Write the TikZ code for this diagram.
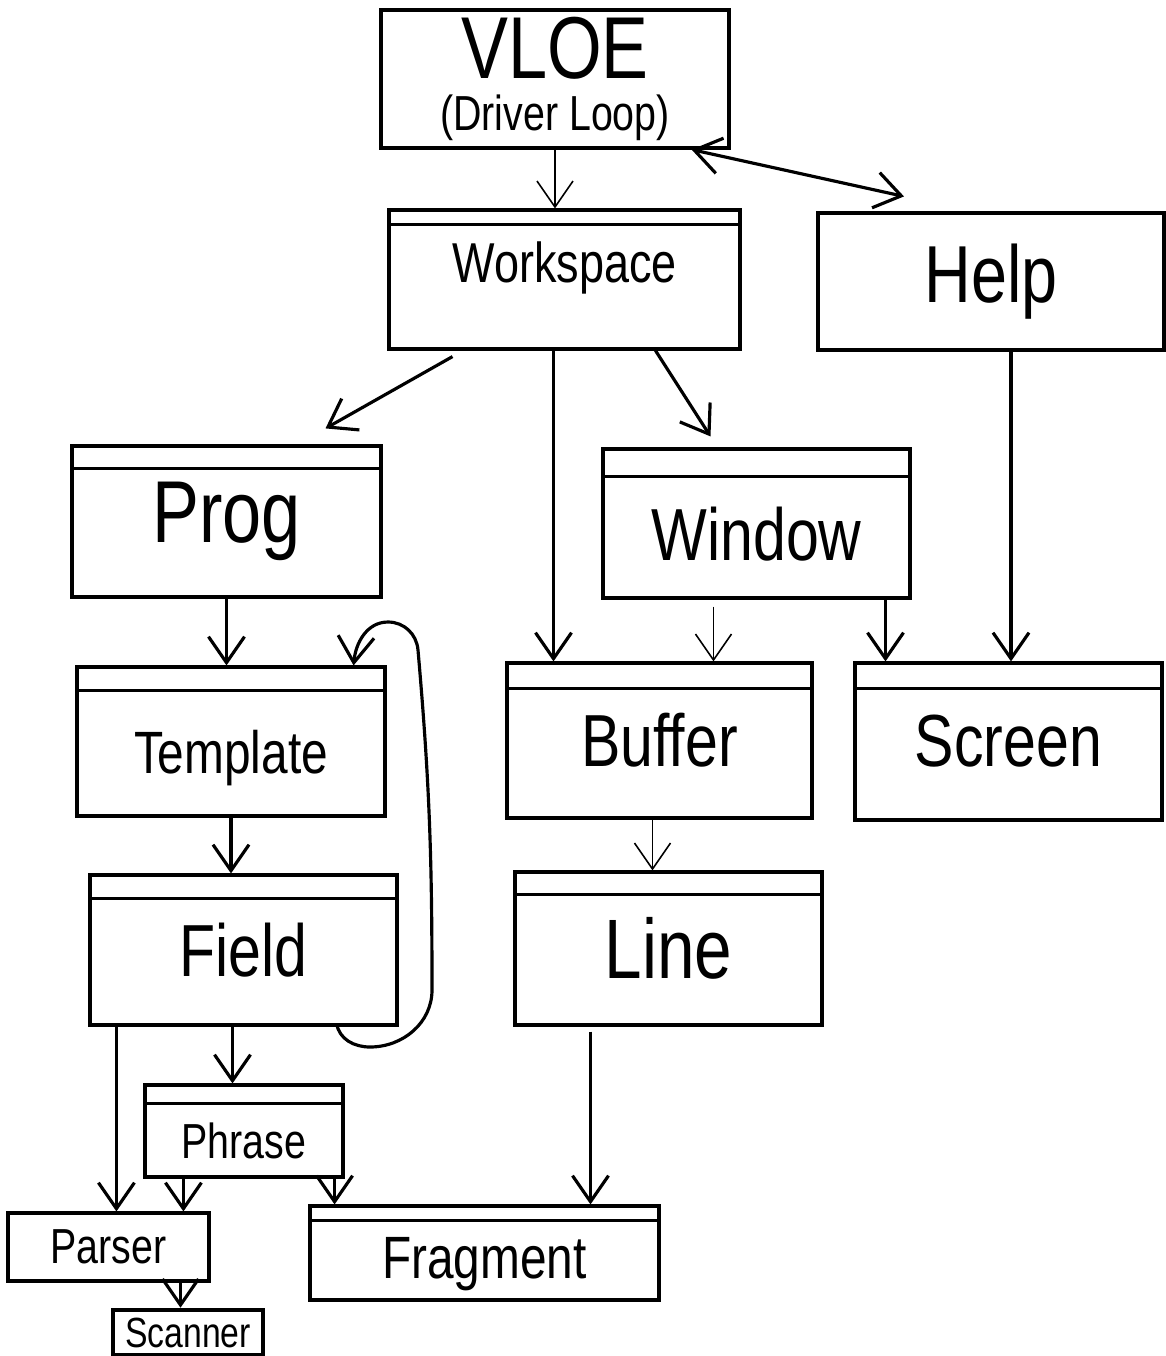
\documentclass[tikz,border=0pt]{standalone}
\usepackage{fontspec}
\setmainfont{Liberation Sans}[FakeStretch=0.8]
\usetikzlibrary{arrows.meta}

\newcommand{\hs}[1]{\fontsize{#1}{#1}\selectfont}

\tikzset{
  box/.style={draw, rectangle, line width=0.9pt, inner sep=0pt},
  lightarrow/.style={line width=0.45pt}
}

\begin{document}
\begin{tikzpicture}[>={Straight Barb[length=2.6mm,width=3.6mm]}, line width=0.9pt]
  \useasboundingbox (0,0) rectangle (11.66,-13.56);

  % Nodes
  \node[box, minimum width=3.48cm, minimum height=1.38cm, align=center] at (5.55,-0.79) (vloe)
    {\hs{25}VLOE\\[3pt]\hs{14}(Driver Loop)};
  \node[box, minimum width=3.51cm, minimum height=1.39cm, text depth=10pt, font=\hs{16}] at (5.645,-2.795) (workspace) {Workspace};
  \node[box, minimum width=3.46cm, minimum height=1.37cm, font=\hs{23}] at (9.91,-2.815) (help) {Help};
  \node[box, minimum width=3.09cm, minimum height=1.51cm, font=\hs{25}] at (2.265,-5.215) (prog) {Prog};
  \node[box, minimum width=3.07cm, minimum height=1.49cm, text height=21pt, font=\hs{21}] at (7.565,-5.235) (window) {Window};
  \node[box, minimum width=3.08cm, minimum height=1.49cm, text height=22pt, font=\hs{17}] at (2.31,-7.415) (template) {Template};
  \node[box, minimum width=3.05cm, minimum height=1.55cm, font=\hs{21}] at (6.595,-7.405) (buffer) {Buffer};
  \node[box, minimum width=3.07cm, minimum height=1.57cm, font=\hs{21}] at (10.085,-7.415) (screen) {Screen};
  \node[box, minimum width=3.07cm, minimum height=1.50cm, font=\hs{21}] at (2.435,-9.50) (field) {Field};
  \node[box, minimum width=3.07cm, minimum height=1.53cm, font=\hs{24}] at (6.685,-9.485) (line) {Line};
  \node[box, minimum width=1.98cm, minimum height=0.92cm, text height=16pt, font=\hs{14}] at (2.44,-11.31) (phrase) {Phrase};
  \node[box, minimum width=2.01cm, minimum height=0.68cm, font=\hs{14}] at (1.085,-12.47) (parser) {Parser};
  \node[box, minimum width=1.50cm, minimum height=0.45cm, line width=1.3pt, font=\hs{12}] at (1.88,-13.325) (scanner) {Scanner};
  \node[box, minimum width=3.49cm, minimum height=0.94cm, text height=18pt, font=\hs{17}] at (4.845,-12.53) (fragment) {Fragment};

  % Header bars
  \foreach \n/\d in {workspace/0.16, prog/0.24, window/0.29, template/0.25, buffer/0.27,
                     screen/0.27, field/0.25, line/0.24, phrase/0.2, fragment/0.16}
    \draw ([yshift=-\d cm]\n.north west) -- ([yshift=-\d cm]\n.north east);

  % Edges
  \draw[->, lightarrow] (vloe.south) -- (vloe.south |- workspace.north);
  \draw[<->] ([xshift=-0.39cm]vloe.south east) -- ([xshift=-0.87cm,yshift=0.15cm]help.north);
  \draw[->] ([xshift=-1.12cm,yshift=-0.06cm]workspace.south) -- ([xshift=0.99cm,yshift=0.16cm]prog.north);
  \draw[->] ([xshift=-0.11cm]workspace.south) -- ([xshift=-0.11cm]workspace.south |- buffer.north);
  \draw[->] ([xshift=0.91cm]workspace.south) -- ([xshift=-0.46cm,yshift=0.11cm]window.north);
  \draw[->] ([xshift=0.2cm]help.south) -- ([xshift=0.2cm]help.south |- screen.north);
  \draw[->, lightarrow] ([xshift=-0.43cm,yshift=-0.07cm]window.south) -- ([xshift=-0.43cm]window.south |- buffer.north);
  \draw[->] ([xshift=1.29cm]window.south) -- ([xshift=1.29cm]window.south |- screen.north);
  \draw[->] (prog.south) -- (prog.south |- template.north);
  \draw[->] (template.south) -- (template.south |- field.north);
  \draw[->] ([xshift=-0.11cm]field.south) -- ([xshift=-0.11cm]field.south |- phrase.north);
  \draw[->] ([xshift=0.28cm]field.south west) -- ([xshift=0.28cm]field.south west |- parser.north);
  \draw[->] ([xshift=0.4cm]phrase.south west) -- ([xshift=0.4cm]phrase.south west |- parser.north);
  \draw[->] ([xshift=-0.1cm]phrase.south east) -- ([xshift=-0.1cm]phrase.south east |- fragment.north);
  \draw[->] ([xshift=-0.78cm,yshift=-0.05cm]line.south) -- ([xshift=-0.78cm]line.south |- fragment.north);
  \draw[->, lightarrow] ([xshift=-0.07cm]buffer.south) -- ([xshift=-0.07cm]buffer.south |- line.north);
  \draw[->] ([xshift=0.72cm]parser.south) -- ([xshift=0.72cm]parser.south |- scanner.north);

  % Field back to Template
  \draw[->] ([xshift=-0.62cm,yshift=0.03cm]field.south east)
    to[out=-80,in=180] (3.70,-10.47)
    to[out=0,in=-90] (4.32,-9.90)
    to[out=90,in=-85] (4.18,-6.50)
    to[out=95,in=0] (3.88,-6.22)
    to[out=180,in=85] ([xshift=-0.33cm]template.north east);
\end{tikzpicture}
\end{document}
